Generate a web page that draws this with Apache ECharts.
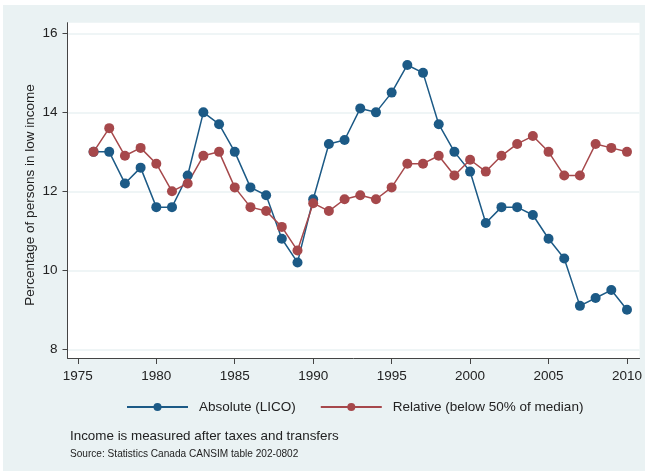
<!DOCTYPE html>
<html>
<head>
<meta charset="utf-8">
<script src="https://cdn.jsdelivr.net/npm/echarts@6/dist/echarts.min.js"></script>
<style>
  html, body { margin: 0; padding: 0; background: #fff; }
  #chart {
    position: absolute;
    left: 3px;
    top: 5px;
    width: 642px;
    height: 466px;
    background: #eaf2f3;
  }
</style>
</head>
<body>
<div id="chart"></div>
<script>
// data
const years = [1976, 1977, 1978, 1979, 1980, 1981, 1982, 1983, 1984, 1985,
  1986, 1987, 1988, 1989, 1990, 1991, 1992, 1993, 1994, 1995,
  1996, 1997, 1998, 1999, 2000, 2001, 2002, 2003, 2004, 2005,
  2006, 2007, 2008, 2009, 2010];
const absoluteLico = [13.0, 13.0, 12.2, 12.6, 11.6, 11.6, 12.4, 14.0, 13.7, 13.0,
  12.1, 11.9, 10.8, 10.2, 11.8, 13.2, 13.3, 14.1, 14.0, 14.5,
  15.2, 15.0, 13.7, 13.0, 12.5, 11.2, 11.6, 11.6, 11.4, 10.8,
  10.3, 9.1, 9.3, 9.5, 9.0];
const relativeMedian = [13.0, 13.6, 12.9, 13.1, 12.7, 12.0, 12.2, 12.9, 13.0, 12.1,
  11.6, 11.5, 11.1, 10.5, 11.7, 11.5, 11.8, 11.9, 11.8, 12.1,
  12.7, 12.7, 12.9, 12.4, 12.8, 12.5, 12.9, 13.2, 13.4, 13.0,
  12.4, 12.4, 13.2, 13.1, 13.0];
const xTicks = [1975, 1980, 1985, 1990, 1995, 2000, 2005, 2010];
const yTicks = [8, 10, 12, 14, 16];

const font = "'Liberation Sans', Arial, sans-serif";
const blue = "#1c5a86";
const red = "#a6484b";

function pairs(vals) {
  return years.map(function (y, i) { return [y, vals[i]]; });
}

let myChart = echarts.init(document.getElementById("chart"));
myChart.setOption({
  animation: false,
  textStyle: { fontFamily: font },
  grid: {
    left: 64.5,
    top: 17.7,
    width: 572.5,
    height: 335.3,
    show: true,
    backgroundColor: "#fff",
    borderWidth: 0,
  },
  legend: {
    left: 123,
    top: 395,
    itemWidth: 61,
    itemHeight: 10,
    itemGap: 24,
    padding: 0,
    textStyle: { fontSize: 13.5, color: "#222", fontFamily: font, padding: [0, 0, 0, 6] },
    data: ["Absolute (LICO)", "Relative (below 50% of median)"],
  },
  xAxis: {
    type: "value",
    min: 1974.34,
    max: 2010.8,
    axisLine: { show: true, lineStyle: { color: "#444", width: 1 } },
    axisTick: { show: true, length: 6, customValues: xTicks, lineStyle: { color: "#444" } },
    axisLabel: {
      customValues: xTicks,
      fontSize: 13.5,
      color: "#222",
      margin: 11,
      formatter: function (v) { return String(v); },
    },
    splitLine: { show: false },
  },
  yAxis: {
    type: "value",
    min: 7.78,
    max: 16.27,
    axisLine: { show: true, lineStyle: { color: "#444", width: 1 } },
    axisTick: { show: true, length: 5, customValues: yTicks, lineStyle: { color: "#444" } },
    axisLabel: { customValues: yTicks, fontSize: 13.5, color: "#222", margin: 10 },
    splitLine: { show: true, lineStyle: { color: "#eaf2f3", width: 1.5 } },
  },
  series: [
    {
      name: "Absolute (LICO)",
      type: "line",
      data: pairs(absoluteLico),
      symbol: "circle",
      symbolSize: 10,
      itemStyle: { color: blue },
      lineStyle: { color: blue, width: 1.5 },
    },
    {
      name: "Relative (below 50% of median)",
      type: "line",
      data: pairs(relativeMedian),
      symbol: "circle",
      symbolSize: 10,
      itemStyle: { color: red },
      lineStyle: { color: red, width: 1.5 },
    },
  ],
  graphic: [
    {
      type: "text",
      x: 27,
      y: 190,
      rotation: Math.PI / 2,
      style: {
        text: "Percentage of persons in low income",
        fontSize: 13.5,
        fill: "#222",
        fontFamily: font,
        textAlign: "center",
        textVerticalAlign: "middle",
      },
    },
    {
      type: "text",
      x: 67,
      y: 431.7,
      style: {
        text: "Income is measured after taxes and transfers",
        fontSize: 13.4,
        fill: "#222",
        fontFamily: font,
        textVerticalAlign: "middle",
      },
    },
    {
      type: "text",
      x: 67,
      y: 449,
      style: {
        text: "Source: Statistics Canada CANSIM table 202-0802",
        fontSize: 10.1,
        fill: "#222",
        fontFamily: font,
        textVerticalAlign: "middle",
      },
    },
  ],
});
</script>
</body>
</html>
